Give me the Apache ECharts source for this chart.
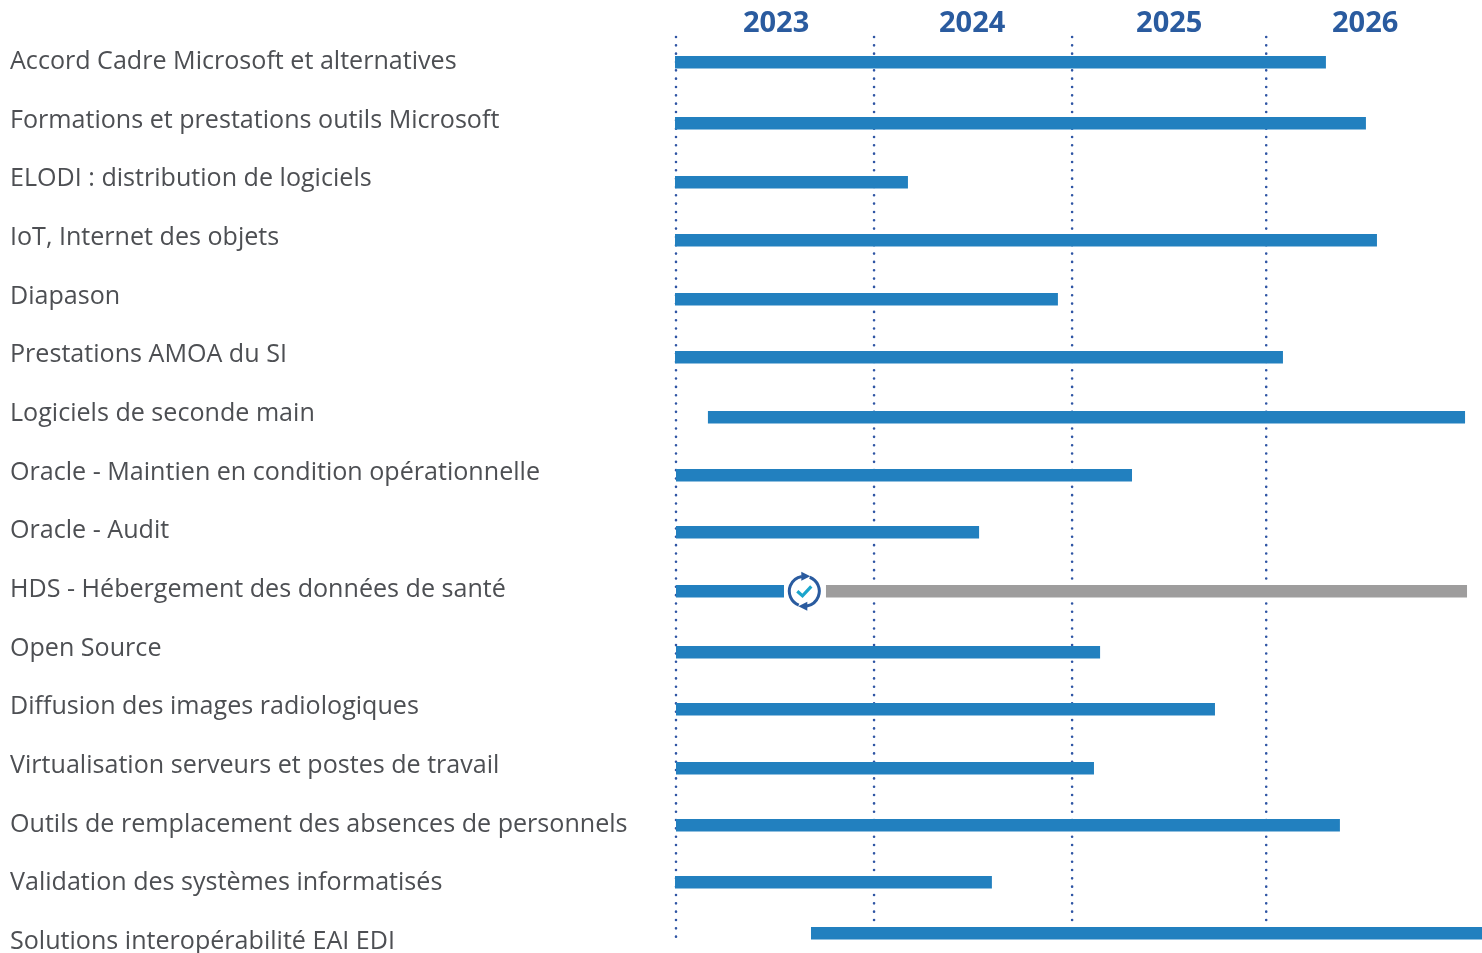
<!DOCTYPE html>
<html><head><meta charset="utf-8">
<style>html,body{margin:0;padding:0;background:#fff;overflow:hidden;height:953px}#c{width:1482px;height:1010px}</style>
<script src="https://cdn.jsdelivr.net/npm/echarts@6/dist/echarts.min.js"></script>
</head><body><div id="c"></div>
<script>
const categories = ["Accord Cadre Microsoft et alternatives","Formations et prestations outils Microsoft","ELODI : distribution de logiciels","IoT, Internet des objets","Diapason","Prestations AMOA du SI","Logiciels de seconde main","Oracle - Maintien en condition opérationnelle","Oracle - Audit","HDS - Hébergement des données de santé","Open Source","Diffusion des images radiologiques","Virtualisation serveurs et postes de travail","Outils de remplacement des absences de personnels","Validation des systèmes informatisés","Solutions interopérabilité EAI EDI"];
const barRows = [0.034,1.074,2.079,3.068,4.074,5.062,6.085,7.073,8.045,9.051,10.09,11.062,12.068,13.039,14.011,14.88];
const barStarts = [2022.995,2022.995,2022.995,2022.995,2022.995,2022.995,2023.162,2023,2023,2023,2023,2023,2023,2023,2022.995,2023.685];
const barEnds = [2026.298,2026.501,2024.177,2026.557,2024.938,2026.08,2027.004,2025.314,2024.538,2023.548,2025.152,2025.735,2025.121,2026.369,2024.603,2027.1];
const renewalStart = [2023.761];
const renewalEnd = [2027.014];
const renewalRow = [9.051];
const renewalIcon = [2023.651, 9.055];
const yearTicks = [2023, 2024.005, 2025.01, 2025.995];
const yearLineEnds = [14.97, 14.72, 14.72, 14.69];
const yearLineStart = -0.392;
const yearLabels = ["2023","2024","2025","2026"];
const yearLabelX = [2023.508, 2024.503, 2025.503, 2026.497];
const yearLabelRow = -0.62;

const FONT = '"Open Sans", "Noto Sans", sans-serif';
const TEXT = '#4d4f53', BLUE = '#2280bf', GREY = '#9e9d9d', DOT = '#2f55a4', NAVY = '#2a5b9f', CYAN = '#1ba5cc';

function rect(api, a, b, row, color){
  const p = api.coord([a, row]), q = api.coord([b, row]);
  return {type:'rect', shape:{x:p[0], y:Math.round(p[1]-6.25), width:q[0]-p[0], height:12.5}, style:{fill:color}};
}
function arrow(points){ return {type:'polygon', shape:{points}, style:{fill:NAVY}}; }

const chart = echarts.init(document.getElementById('c'), null, {renderer:'canvas'});
chart.setOption({
  animation:false,
  backgroundColor:'#fff',
  grid:[
    {left:656.293, right:0, top:30.67, height:938.67, containLabel:false},
    {left:656.293, right:0, top:32.67, height:938.67, containLabel:false}
  ],
  xAxis:[
    {type:'value', gridIndex:0, min:2022.9, max:2027.09, show:false},
    {type:'value', gridIndex:1, min:2022.9, max:2027.09, show:false}
  ],
  yAxis:[
    {type:'category', gridIndex:1, inverse:true, data:categories,
     axisLine:{show:false}, axisTick:{show:false}, splitLine:{show:false},
     axisLabel:{interval:0, align:'left', margin:646.3, color:TEXT, fontFamily:FONT, fontSize:25.1}},
    {type:'value', gridIndex:0, inverse:true, min:-0.5, max:15.5, show:false}
  ],
  series:[
    {type:'custom', name:'years', xAxisIndex:0, yAxisIndex:1, silent:true, z:1, clip:false,
     data:yearTicks.map((x,i)=>[x,yearLineEnds[i]]),
     renderItem:(p,api)=>{
       const a=api.coord([api.value(0),yearLineStart]), b=api.coord([api.value(0),api.value(1)]);
       return {type:'line', shape:{x1:a[0],y1:a[1],x2:b[0],y2:b[1]},
         style:{stroke:DOT,lineWidth:2.6,lineCap:'round',lineDash:[0.01,8.32]}};
     }},
    {type:'custom', name:'bars', xAxisIndex:0, yAxisIndex:1, silent:true, z:2, clip:false,
     data:barRows.map((r,i)=>[barStarts[i],barEnds[i],r]),
     renderItem:(p,api)=>rect(api,api.value(0),api.value(1),api.value(2),BLUE)},
    {type:'custom', name:'renewal', xAxisIndex:0, yAxisIndex:1, silent:true, z:2, clip:false,
     data:renewalRow.map((r,i)=>[renewalStart[i],renewalEnd[i],r]),
     renderItem:(p,api)=>rect(api,api.value(0),api.value(1),api.value(2),GREY)},
    {type:'custom', name:'icon', xAxisIndex:0, yAxisIndex:1, silent:true, z:3, clip:false,
     data:[renewalIcon],
     renderItem:(p,api)=>{
       const c=api.coord([api.value(0),api.value(1)]);
       const arc=(s,e)=>({type:'arc',shape:{cx:0,cy:0,r:15,startAngle:s,endAngle:e,clockwise:true},
         style:{fill:null,stroke:NAVY,lineWidth:3}});
       return {type:'group',x:c[0],y:c[1],children:[
         arc(-1.2,1.4), arc(1.95,4.55),
         arrow([[-3,-19.5],[6,-15],[-3,-10.5]]),
         arrow([[3,19.5],[-6,15],[3,10.5]]),
         {type:'polyline',shape:{points:[[-7,0],[-1.8,4.6],[7,-4.8]]},
          style:{fill:null,stroke:CYAN,lineWidth:3.2}}
       ]};
     }},
    {type:'custom', name:'yearLabels', xAxisIndex:0, yAxisIndex:1, silent:true, z:4, clip:false,
     data:yearLabelX.map((x,i)=>[x,yearLabelRow,yearLabels[i]]),
     renderItem:(p,api)=>{
       const c=api.coord([api.value(0),api.value(1)]);
       return {type:'text',x:c[0],y:c[1],style:{text:yearLabels[p.dataIndex],fill:NAVY,
         font:'700 29px '+FONT,textAlign:'center',textVerticalAlign:'middle'}};
     }}
  ]
});
</script></body></html>
